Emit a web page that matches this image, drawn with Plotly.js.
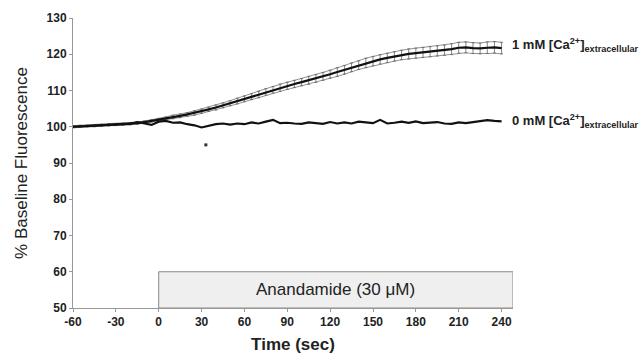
<!DOCTYPE html>
<html>
<head>
<meta charset="utf-8">
<script src="https://cdn.plot.ly/plotly-3.0.1.min.js"></script>
<style>html,body{margin:0;padding:0;background:#fff;}#chart{width:642px;height:361px;}</style>
</head>
<body>
<div id="chart"></div>
<script>
const timeSec = [-60,-55,-50,-45,-40,-35,-30,-25,-20,-15,-10,-5,0,5,10,15,20,25,30,35,40,45,50,55,60,65,70,75,80,85,90,95,100,105,110,115,120,125,130,135,140,145,150,155,160,165,170,175,180,185,190,195,200,205,210,215,220,225,230,235,240];
const ca1mM = [100.0,100.1,100.2,100.3,100.4,100.5,100.6,100.7,100.8,101.0,101.3,101.6,101.9,102.3,102.7,103.0,103.4,103.8,104.3,104.8,105.3,105.9,106.5,107.1,107.7,108.3,108.9,109.6,110.2,110.8,111.3,111.8,112.3,112.8,113.3,113.9,114.5,115.1,115.7,116.4,117.0,117.6,118.1,118.6,119.0,119.4,119.8,120.1,120.3,120.5,120.7,120.9,121.1,121.4,121.8,121.9,121.7,121.6,121.8,121.9,121.7];
const ca1mMErr = [0.3,0.3,0.3,0.3,0.3,0.3,0.3,0.3,0.3,0.3,0.3,0.3,0.4,0.4,0.5,0.5,0.5,0.6,0.6,0.6,0.7,0.7,0.7,0.8,0.8,0.8,0.9,0.9,0.9,1.0,1.0,1.0,1.0,1.1,1.1,1.1,1.1,1.2,1.2,1.2,1.2,1.3,1.3,1.3,1.3,1.3,1.3,1.4,1.4,1.4,1.4,1.4,1.4,1.5,1.5,1.5,1.5,1.5,1.6,1.6,1.6];
const ca0mM = [100.0,100.1,100.2,100.3,100.4,100.5,100.6,100.7,100.8,101.3,101.0,100.5,101.4,101.6,101.1,101.2,100.7,100.4,99.8,100.3,100.7,100.9,100.6,100.9,100.7,101.2,100.9,101.4,101.9,101.0,101.1,100.9,100.8,101.2,100.9,100.8,101.3,100.9,101.2,100.9,101.4,101.1,101.0,101.9,100.9,101.1,101.4,101.1,101.5,101.0,101.1,101.3,100.9,100.8,101.2,101.0,101.3,101.6,101.8,101.6,101.5];
const outlierTime = [33];
const outlierValue = [95];
const xTicks = [-60,-30,0,30,60,90,120,150,180,210,240];
const yTicks = [50,60,70,80,90,100,110,120,130];
const treatmentStart = 0, treatmentEnd = 248, treatmentLow = 50, treatmentHigh = 60;

const upper = ca1mM.map((v,i)=>v+ca1mMErr[i]);
const lower = ca1mM.map((v,i)=>v-ca1mMErr[i]);

const traces = [
  {x: timeSec, y: upper, mode:'lines', line:{color:'#777', width:0.8}, hoverinfo:'skip'},
  {x: timeSec, y: lower, mode:'lines', line:{color:'#777', width:0.8}, hoverinfo:'skip'},
  {x: timeSec, y: ca1mM, mode:'lines', line:{color:'#111', width:2.2},
   error_y:{type:'data', array:ca1mMErr, visible:true, color:'#666', thickness:0.8, width:1.5}},
  {x: timeSec, y: ca0mM, mode:'lines', line:{color:'#111', width:2.2}},
  {x: outlierTime, y: outlierValue, mode:'markers', marker:{color:'#333', size:3, symbol:'square'}}
];

const FAM = 'Liberation Sans, Arial, sans-serif';
const tickFont = {family:FAM, size:12, color:'#222', weight:'bold'};

const layout = {
  width:642, height:361,
  margin:{l:73, r:129, t:18, b:53},
  paper_bgcolor:'#fff', plot_bgcolor:'#fff',
  showlegend:false,
  xaxis:{range:[-60,248], tickvals:xTicks, ticktext:xTicks.map(String), tickfont:tickFont,
    showgrid:false, zeroline:false, showline:true, linecolor:'#999', linewidth:1,
    ticks:'outside', ticklen:3, tickcolor:'#999',
    title:{text:'Time (sec)', font:{family:FAM, size:17, color:'#222', weight:'bold'}, standoff:9}},
  yaxis:{range:[50,130], tickvals:yTicks, tickfont:tickFont,
    showgrid:false, zeroline:false, showline:true, linecolor:'#999', linewidth:1,
    ticks:'outside', ticklen:3, tickcolor:'#999',
    title:{text:'% Baseline Fluorescence', font:{family:FAM, size:17, color:'#222'}, standoff:14}},
  shapes:[{type:'rect', xref:'x', yref:'y', x0:treatmentStart, x1:treatmentEnd, y0:treatmentLow, y1:treatmentHigh,
    fillcolor:'#efefef', line:{color:'#888', width:1}, layer:'below'}],
  annotations:[
    {xref:'x', yref:'y', x:(treatmentStart+treatmentEnd)/2, y:(treatmentLow+treatmentHigh)/2, text:'Anandamide (30 μM)', showarrow:false,
     font:{family:FAM, size:17, color:'#222'}},
    {xref:'paper', yref:'y', x:0.993, xanchor:'left', y:122.5, text:'1 mM [Ca<sup>2+</sup>]<sub>extracellular</sub>', showarrow:false,
     font:{family:FAM, size:13, color:'#222', weight:'bold'}},
    {xref:'paper', yref:'y', x:0.993, xanchor:'left', y:101.5, text:'0 mM [Ca<sup>2+</sup>]<sub>extracellular</sub>', showarrow:false,
     font:{family:FAM, size:13, color:'#222', weight:'bold'}}
  ]
};

Plotly.newPlot('chart', traces, layout, {staticPlot:true, displayModeBar:false});
</script>
</body>
</html>
